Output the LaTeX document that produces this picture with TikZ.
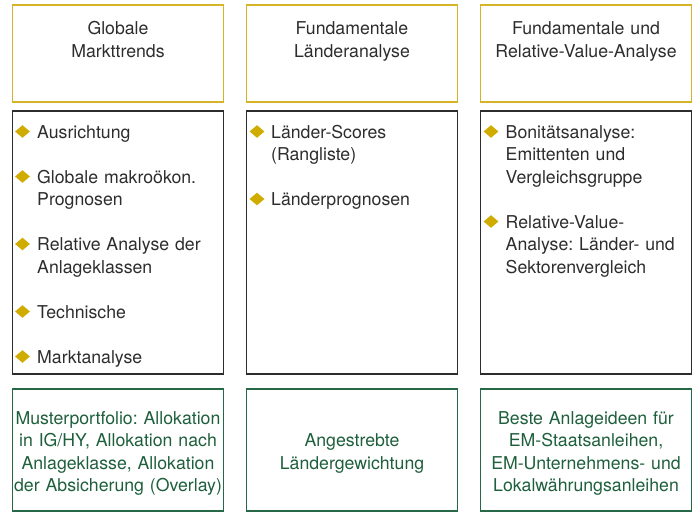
\documentclass[tikz,border=0pt]{standalone}
\usepackage{fontspec}
\setmainfont{TeX Gyre Heros}
\definecolor{goldline}{RGB}{214,180,40}
\definecolor{golddot}{RGB}{208,172,0}
\definecolor{greenline}{RGB}{38,104,72}
\definecolor{greentext}{RGB}{30,95,60}
\definecolor{greyline}{RGB}{45,45,45}
\definecolor{greytext}{RGB}{45,45,45}
\tikzset{
  box/.style={draw, rectangle, line width=1.2pt, inner sep=0pt, minimum width=211pt},
  headbox/.style={box, draw=goldline, minimum height=97pt},
  listbox/.style={box, draw=greyline, minimum height=263pt},
  resultbox/.style={box, draw=greenline, minimum height=122pt},
  txt/.style={inner sep=0pt, font=\fontsize{17.7}{22.5}\selectfont\frenchspacing, text=greytext,
    execute at begin node=\strut, execute at end node=\strut},
  bullet/.style={fill=golddot},
}
\begin{document}
\begin{tikzpicture}[x=1pt, y=-1pt]
  \useasboundingbox (0,0) rectangle (695,513);
  % boxes
  \node[headbox] (head1) at (118,53.5) {};
  \node[headbox] (head2) at (352,53.5) {};
  \node[headbox] (head3) at (586,53.5) {};
  \node[listbox] (list1) at (118,242.5) {};
  \node[listbox] (list2) at (352,242.5) {};
  \node[listbox] (list3) at (586,242.5) {};
  \node[resultbox] (res1) at (118,450) {};
  \node[resultbox] (res2) at (352,450) {};
  \node[resultbox] (res3) at (586,450) {};
  % headings
  \begin{scope}[every node/.style={txt, anchor=north, text width=205pt, align=center}]
    \node (headtext1) at ([yshift=-14.25pt]head1.north) {Globale\\Markttrends};
    \node (headtext2) at ([yshift=-14.25pt]head2.north) {Fundamentale\\Länderanalyse};
    \node (headtext3) at ([yshift=-14.25pt]head3.north) {Fundamentale und\\Relative-Value-Analyse};
  \end{scope}
  % bullet lists
  \foreach \y/\t [count=\i] in {138/Ausrichtung, 183/{Globale makroökon.\\Prognosen},
      250.5/{Relative Analyse der\\Anlageklassen}, 318/Technische, 363/Marktanalyse} {
    \coordinate (dotA\i) at (22.5,\y-6.5);
    \fill[bullet] (dotA\i) ++(-7.4,0) -- ++(7.4,-6.3) -- ++(7.4,6.3) -- ++(-7.4,6.3) -- cycle;
    \node[txt, anchor=north west, text width=180pt, align=left] (itemA\i) at (37,\y-15.75) {\t};
  }
  \foreach \y/\t [count=\i] in {138/{Länder-Scores\\(Rangliste)}, 205.5/Länderprognosen} {
    \coordinate (dotB\i) at (257,\y-6.5);
    \fill[bullet] (dotB\i) ++(-7.4,0) -- ++(7.4,-6.3) -- ++(7.4,6.3) -- ++(-7.4,6.3) -- cycle;
    \node[txt, anchor=north west, text width=180pt, align=left] (itemB\i) at (271,\y-15.75) {\t};
  }
  \foreach \y/\t [count=\i] in {138/{Bonitätsanalyse:\\Emittenten und\\Vergleichsgruppe},
      228/{Relative-Value-\\Analyse: Länder- und\\Sektorenvergleich}} {
    \coordinate (dotC\i) at (491,\y-6.5);
    \fill[bullet] (dotC\i) ++(-7.4,0) -- ++(7.4,-6.3) -- ++(7.4,6.3) -- ++(-7.4,6.3) -- cycle;
    \node[txt, anchor=north west, text width=180pt, align=left] (itemC\i) at (505.5,\y-15.75) {\t};
  }
  % results
  \begin{scope}[every node/.style={txt, text=greentext, text width=209pt, align=center}]
    \node (restext1) at ([yshift=-3.25pt]res1.center)
      {Musterportfolio: Allokation\\in IG/HY, Allokation nach\\Anlageklasse, Allokation\\der Absicherung (Overlay)};
    \node (restext2) at ([yshift=-3.25pt]res2.center) {Angestrebte\\Ländergewichtung};
    \node (restext3) at ([yshift=-3.25pt]res3.center)
      {Beste Anlageideen für\\EM-Staatsanleihen,\\EM-Unternehmens- und\\Lokalwährungsanleihen};
  \end{scope}
\end{tikzpicture}
\end{document}
